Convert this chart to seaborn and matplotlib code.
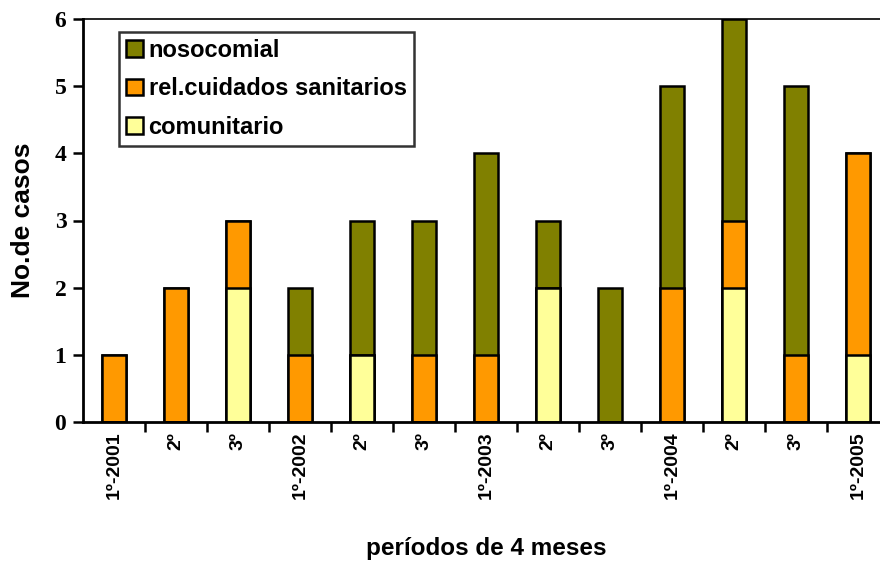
import seaborn as sns
import matplotlib.pyplot as plt
import matplotlib.patches as mpatches
import pandas as pd

periodos = ["1º-2001", "2º", "3º", "1º-2002", "2º", "3º", "1º-2003",
            "2º", "3º", "1º-2004", "2º", "3º", "1º-2005"]
comunitario = [0, 0, 2, 0, 1, 0, 0, 2, 0, 0, 2, 0, 1]
rel_cuidados = [1, 2, 1, 1, 0, 1, 1, 0, 0, 2, 1, 1, 3]
nosocomial = [0, 0, 0, 1, 2, 2, 3, 1, 2, 3, 3, 4, 0]

c_noso = "#808000"
c_rel = "#FF9900"
c_com = "#FFFF99"

df = pd.DataFrame({
    "idx": range(len(periodos)),
    "com": comunitario,
    "rel": rel_cuidados,
    "noso": nosocomial,
})
df["lvl2"] = df["com"] + df["rel"]
df["total"] = df["lvl2"] + df["noso"]

sns.set_style("white")
plt.rcParams["font.family"] = ["Liberation Sans", "DejaVu Sans"]
plt.rcParams["text.color"] = "black"
plt.rcParams["axes.labelcolor"] = "black"
plt.rcParams["xtick.color"] = "black"
plt.rcParams["ytick.color"] = "black"

fig = plt.figure(figsize=(8.8, 5.65), dpi=100)
ax = fig.add_axes([83/880, 1-422/565, 806/880, 403/565])

# stacked by overdrawing cumulative totals
for col, color in [("total", c_noso), ("lvl2", c_rel), ("com", c_com)]:
    sns.barplot(data=df, x="idx", y=col, color=color, width=0.4,
                edgecolor="black", linewidth=1.8, saturation=1, ax=ax)

ax.set_xlim(-0.5, len(periodos) - 0.5)
ax.set_ylim(0, 6)
ax.set_yticks(range(7))
ax.set_yticklabels([str(v) for v in range(7)], family="Liberation Serif",
                   fontweight="bold", fontsize=17)
ax.set_xticks(range(len(periodos)))
ax.set_xticklabels(periodos, rotation=90, fontweight="bold", fontsize=14)
ax.set_xticks([i + 0.5 for i in range(len(periodos) - 1)], minor=True)
ax.tick_params(axis="x", which="major", length=0, pad=7)
ax.tick_params(axis="x", which="minor", length=7, width=1.8, direction="out",
               bottom=True)
ax.tick_params(axis="y", length=7, width=1.8, direction="out", left=True, pad=5)

for s in ["left", "bottom"]:
    ax.spines[s].set_linewidth(2)
    ax.spines[s].set_color("black")
ax.spines["top"].set_linewidth(1.2)
ax.spines["top"].set_color("black")
ax.spines["right"].set_visible(False)

ax.set_ylabel("No.de casos", fontsize=19, fontweight="bold", labelpad=14)
ax.set_xlabel("períodos de 4 meses", fontsize=17.5, fontweight="bold", labelpad=27)

handles = [mpatches.Patch(facecolor=c_noso, edgecolor="black", linewidth=1.8, label="nosocomial"),
           mpatches.Patch(facecolor=c_rel, edgecolor="black", linewidth=1.8, label="rel.cuidados sanitarios"),
           mpatches.Patch(facecolor=c_com, edgecolor="black", linewidth=1.8, label="comunitario")]
leg = ax.legend(handles=handles, loc="upper left", bbox_to_anchor=(0.0447, 0.968),
                borderaxespad=0, prop={"weight": "bold", "size": 17}, frameon=True,
                fancybox=False, edgecolor="black", handlelength=0.7, handleheight=0.7,
                handletextpad=0.25, labelspacing=0.65, borderpad=0.3)
leg.get_frame().set_linewidth(1.8)

fig.savefig("out.png", dpi=100)
